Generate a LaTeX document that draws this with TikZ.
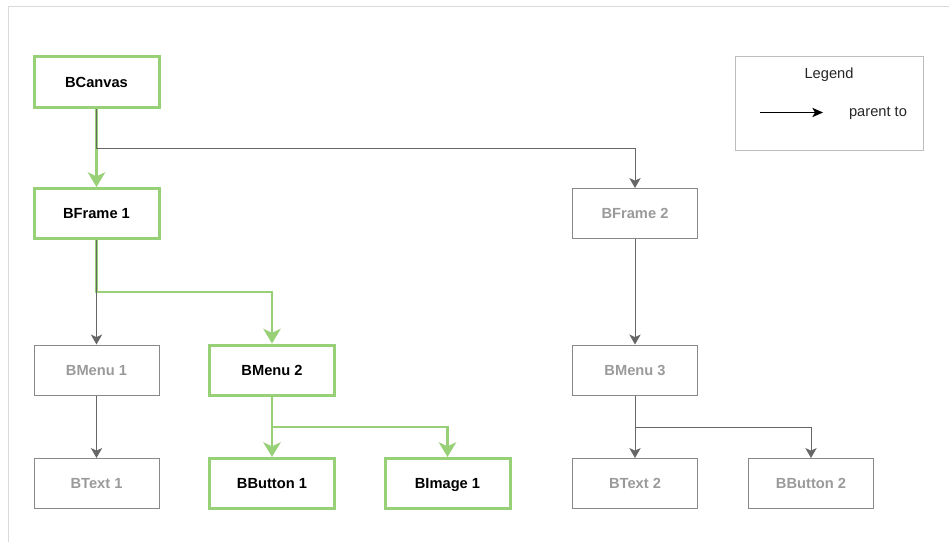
\documentclass[tikz,border=0pt]{standalone}
\usepackage{fontspec}
\setmainfont{Liberation Sans}
\usetikzlibrary{arrows.meta}
\definecolor{lgreen}{HTML}{97D077}
\definecolor{gbox}{HTML}{888888}
\definecolor{gtext}{HTML}{9A9A9A}
\definecolor{garrow}{HTML}{666666}
\definecolor{frameline}{HTML}{D9D9D9}
\definecolor{legline}{HTML}{BDBDBD}
\tikzset{
  basebox/.style={rectangle, minimum width=93.75pt, minimum height=37.5pt, inner sep=0pt, text height=8pt, text depth=0pt, font=\fontsize{11pt}{13pt}\selectfont\bfseries},
  hot/.style={basebox, draw=lgreen, line width=2.25pt, text=black},
  cold/.style={basebox, draw=gbox, line width=0.75pt, text=gtext},
  greenlink/.style={draw=lgreen, line width=1.9pt, -{Stealth[length=11pt,width=13pt,inset=3pt]}},
  greylink/.style={draw=garrow, line width=0.75pt, -{Stealth[length=7.5pt,width=8.5pt,inset=2pt]}},
  legtext/.style={font=\fontsize{11pt}{13pt}\selectfont, text=black!85, inner sep=0pt}
}
\begin{document}
\begin{tikzpicture}[x=0.75pt,y=-0.75pt]
\useasboundingbox (0,0) rectangle (949,542);
% outer frame (partly visible)
\draw[frameline, line width=0.75pt] (8.5,542) -- (8.5,6.5) -- (949,6.5);

% nodes
\node[hot]  (canvas)  at (96.5,82)   {BCanvas};
\node[hot]  (frame1)  at (96.5,213.5) {BFrame 1};
\node[cold] (frame2)  at (635,213.5) {BFrame 2};
\node[cold] (menu1)   at (96.5,370)  {BMenu 1};
\node[hot]  (menu2)   at (272,370)   {BMenu 2};
\node[cold] (menu3)   at (635,370)   {BMenu 3};
\node[cold] (text1)   at (96.5,483.5) {BText 1};
\node[hot]  (button1) at (272,483.5) {BButton 1};
\node[hot]  (image1)  at (447.5,483.5) {BImage 1};
\node[cold] (text2)   at (635,483.5) {BText 2};
\node[cold] (button2) at (811,483.5) {BButton 2};

% green (highlighted) connectors
\draw[greenlink] (canvas.south) -- (frame1.north);
\draw[greenlink] (frame1.south) -- (frame1.south |- 0,292) -| (menu2.north);
\draw[greenlink] (menu2.south) -- (button1.north);
\draw[greenlink] (menu2.south) -- (menu2.south |- 0,427) -| (image1.north);

% grey connectors
\draw[greylink] (canvas.south) -- (canvas.south |- 0,148) -| (frame2.north);
\draw[greylink] (frame1.south) -- (menu1.north);
\draw[greylink] (menu1.south) -- (text1.north);
\draw[greylink] (frame2.south) -- (menu3.north);
\draw[greylink] (menu3.south) -- (text2.north);
\draw[greylink] (menu3.south) -- (menu3.south |- 0,427) -| (button2.north);

% legend
\node[draw=legline, line width=0.75pt, minimum width=141pt, minimum height=70.5pt, inner sep=0pt] (legend) at (829.5,103.5) {};
\node[legtext] (legtitle) at (829,74.5) {Legend};
\node[legtext] (legparent) at (878,113.5) {parent to};
\coordinate (la) at (760,112.5);
\coordinate (lb) at (823,112.5);
\draw[black, line width=0.75pt, -{Stealth[length=8pt,width=7pt,inset=2pt]}] (la) -- (lb);
\end{tikzpicture}
\end{document}
